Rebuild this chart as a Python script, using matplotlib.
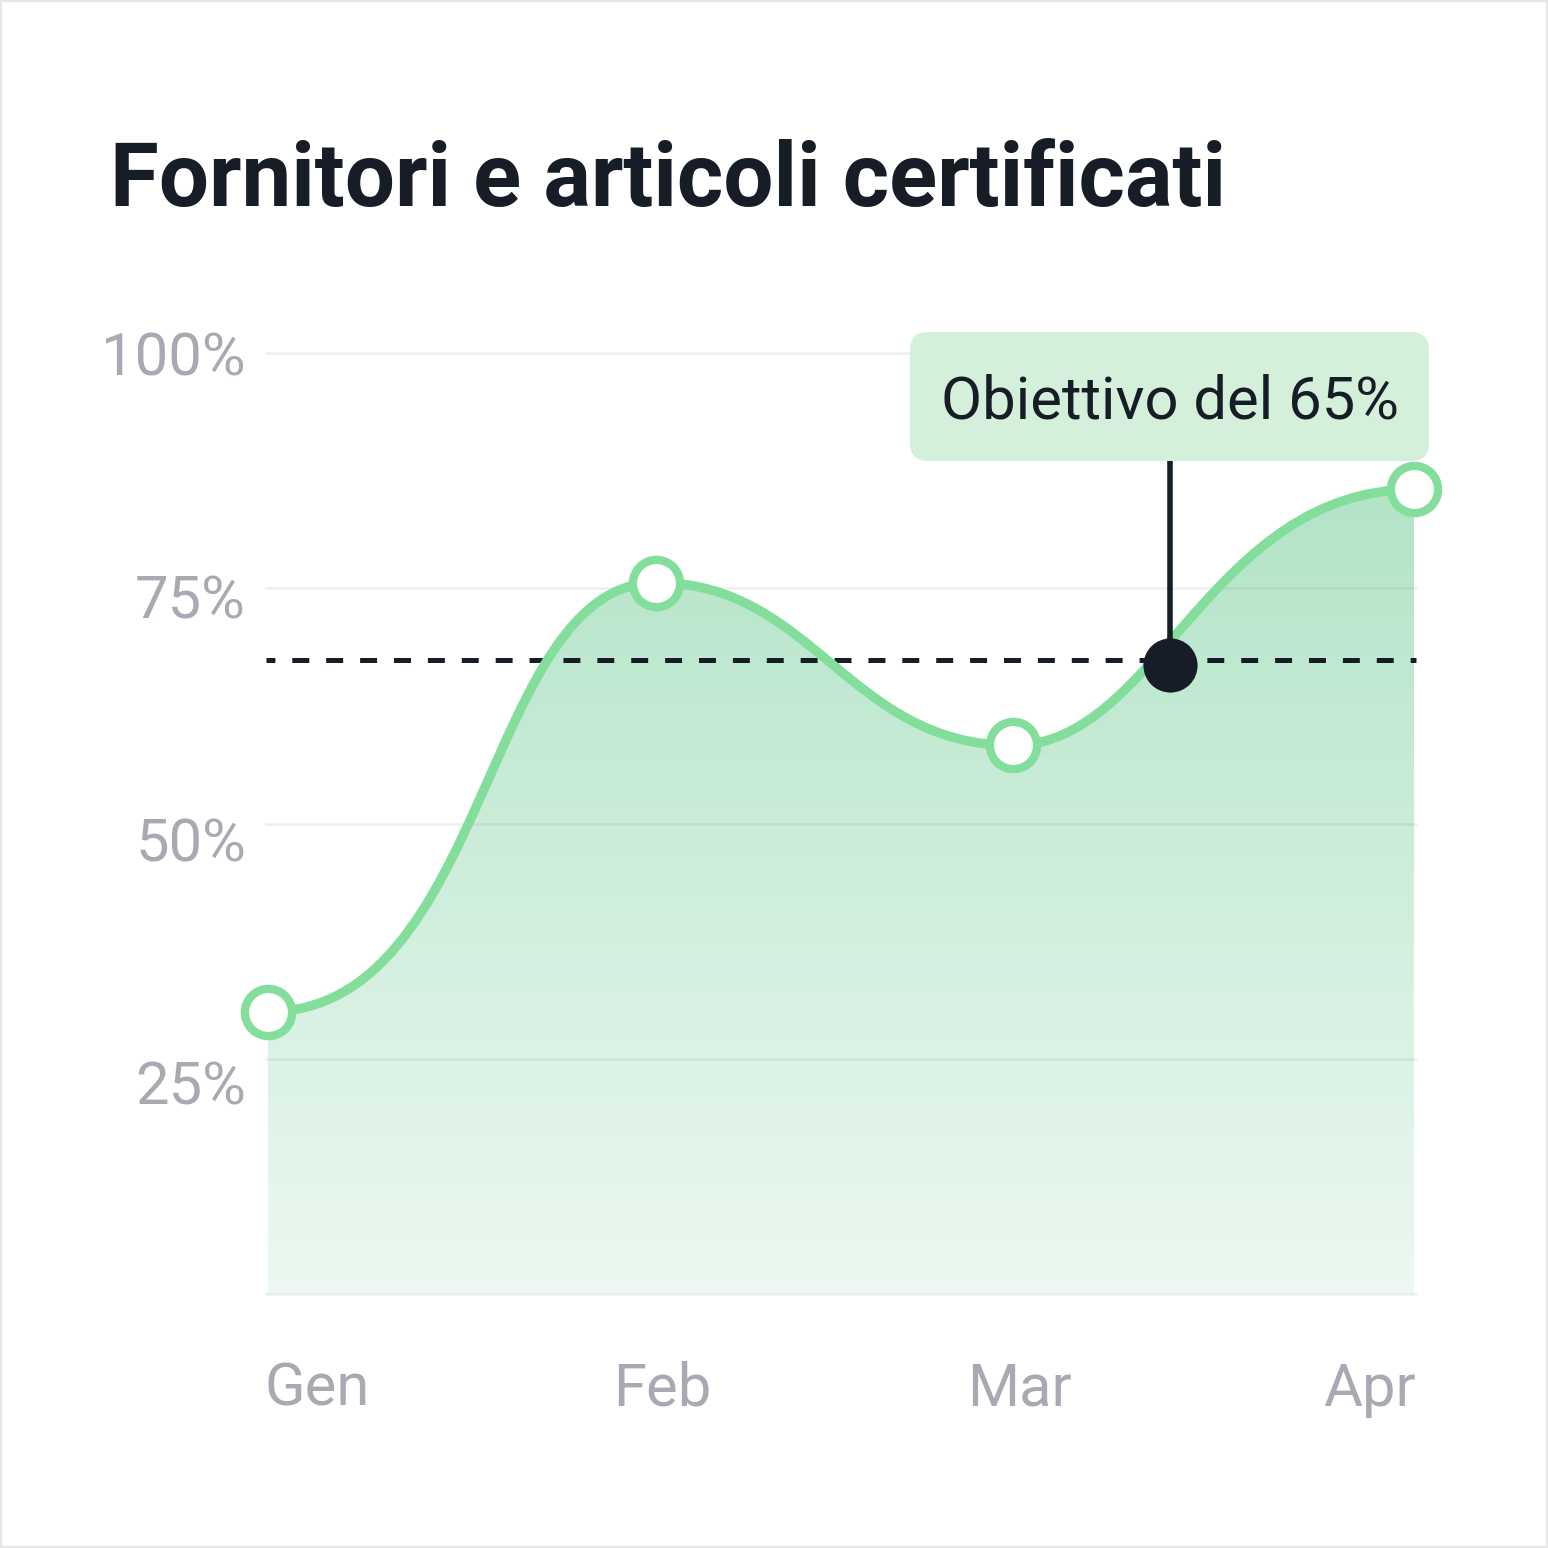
import numpy as np
import matplotlib
matplotlib.use("Agg")
import matplotlib.pyplot as plt
from matplotlib.path import Path
from matplotlib.patches import PathPatch, FancyBboxPatch, Rectangle
from matplotlib.colors import LinearSegmentedColormap
from matplotlib.lines import Line2D
import matplotlib.transforms as mtransforms

# ---------------- data ----------------
title = "Fornitori e articoli certificati"
months = ["Gen", "Feb", "Mar", "Apr"]
month_tick_days = [0, 31, 59, 90]          # day offset of each month tick
point_days = [0, 30.5, 58.5, 90]           # day offset of each data point
certified_pct = [30.0, 75.6, 58.3, 85.5]   # % certified
y_ticks = [25, 50, 75, 100]
y_tick_labels = ["25%", "50%", "75%", "100%"]
goal_level = 67.4                          # dashed goal line
goal_point_day = 70.8                      # highlighted point
goal_point_value = 66.8
callout_text = "Obiettivo del 65%"

# ---------------- style ----------------
W = H = 1548
DPI = 100
GREEN = "#84de9b"
DARK = "#171d26"
GRAY = "#a9a9b4"
CALLOUT_BG = "#d4f0da"
FILL_TOP = "#b3e4c7"
FILL_BOTTOM = "#ecf8f1"
GRID = (0.42, 0.42, 0.52, 0.10)
FONT = ["Roboto", "DejaVu Sans"]
# smoothing handles per segment (fraction of segment width for the two
# horizontal Bezier control points)
CURVE_HANDLES = [(0.57, 0.556), (0.44, 0.54), (0.36, 0.49)]
plt.rcParams["lines.scale_dashes"] = False

fig = plt.figure(figsize=(W / DPI, H / DPI), dpi=DPI, facecolor="white")
ID = mtransforms.IdentityTransform()

ax_left, ax_right, ax_top, ax_bottom = 266, 1416, 353, 1294
ax = fig.add_axes([ax_left / W, 1 - ax_bottom / H,
                   (ax_right - ax_left) / W, (ax_bottom - ax_top) / H])
ax.axis("off")
pad_days = 2 * (point_days[-1] - point_days[0]) / 1146


def set_limits():
    ax.set_xlim(point_days[0] - pad_days, point_days[-1] + pad_days)
    ax.set_ylim(0, 100)


set_limits()

# smooth curve through the points (horizontal tangents at each point)
verts = [(point_days[0], certified_pct[0])]
codes = [Path.MOVETO]
for (x0, y0, x1, y1), (a, c) in zip(
        zip(point_days[:-1], certified_pct[:-1], point_days[1:], certified_pct[1:]),
        CURVE_HANDLES):
    dx = x1 - x0
    verts += [(x0 + a * dx, y0), (x0 + c * dx, y1), (x1, y1)]
    codes += [Path.CURVE4] * 3
curve = Path(verts, codes)

fill_verts = verts + [(point_days[-1], 0), (point_days[0], 0), verts[0]]
fill_codes = codes + [Path.LINETO, Path.LINETO, Path.CLOSEPOLY]
fill_patch = PathPatch(Path(fill_verts, fill_codes), facecolor="none",
                       edgecolor="none", transform=ax.transData)
ax.add_patch(fill_patch)

cmap = LinearSegmentedColormap.from_list("fillgrad", [FILL_BOTTOM, FILL_TOP])
grad = np.linspace(0, 1, 256).reshape(-1, 1)
im = ax.imshow(grad, cmap=cmap, origin="lower", aspect="auto",
               extent=[point_days[0], point_days[-1], 0, max(certified_pct)],
               zorder=1, interpolation="bilinear")
im.set_clip_path(fill_patch)
set_limits()

# grid lines (incl. baseline)
for v in [0] + y_ticks:
    ax.axhline(v, color=GRID, lw=1.8, zorder=2, clip_on=False)

# goal dashed line
ax.axhline(goal_level, color=DARK, lw=3.6,
           linestyle=(5.8, (12.2, 12.2)), zorder=3, clip_on=False)

# curve
ax.add_patch(PathPatch(curve, facecolor="none", edgecolor=GREEN, lw=6.8,
                       capstyle="round", joinstyle="round", zorder=4))

# data point markers
ax.plot(point_days, certified_pct, "o", ms=34, mfc="white", mec=GREEN,
        mew=6.0, zorder=6, clip_on=False)

# highlighted goal point + callout
ax.plot([goal_point_day], [goal_point_value], "o", ms=39, color=DARK,
        mec=DARK, mew=0, zorder=9, clip_on=False)
mx, my = ax.transData.transform((goal_point_day, goal_point_value))
box_w, box_h = 519, 129
box_bottom = H - 461
ax.add_line(Line2D([mx, mx], [my, box_bottom], color=DARK, lw=4,
                   transform=ID, zorder=8, clip_on=False))
ax.add_patch(FancyBboxPatch((mx - box_w / 2, box_bottom), box_w, box_h,
                            boxstyle="round,pad=0,rounding_size=18",
                            facecolor=CALLOUT_BG, edgecolor="none",
                            transform=ID, zorder=10, clip_on=False))
ax.text(mx, box_bottom + box_h / 2 - 22, callout_text, transform=ID,
        ha="center", va="baseline", fontsize=43, color=DARK, family=FONT,
        zorder=11)
set_limits()

# y tick labels
top_disp = ax.transData.transform((0, 100))[1]
for v, lab in zip(y_ticks, y_tick_labels):
    gy = ax.transData.transform((0, v))[1]
    yc = top_disp - (top_disp - gy) * 1.034
    fig.text(246 / W, (yc - 22) / H, lab, ha="right", va="baseline",
             fontsize=43, color=GRAY, family=FONT)

# x tick labels
aligns = ["left"] + ["center"] * (len(months) - 2) + ["right"]
nudges = [-4] + [0] * (len(months) - 2) + [2]
for d, lab, ha, nd in zip(month_tick_days, months, aligns, nudges):
    xd = ax.transData.transform((d, 0))[0] + nd
    fig.text(xd / W, 142 / H, lab, ha=ha, va="baseline",
             fontsize=43, color=GRAY, family=FONT)

# title
fig.text(110 / W, 1 - 206 / H, title, ha="left", va="baseline",
         fontsize=64, fontweight="bold", color=DARK, family=FONT)

# frame
fig.add_artist(Rectangle((0, 0), 1, 1, transform=fig.transFigure, fill=False,
                         edgecolor="#e6e6e8", lw=3))

fig.savefig("out.png", dpi=DPI, facecolor="white")
